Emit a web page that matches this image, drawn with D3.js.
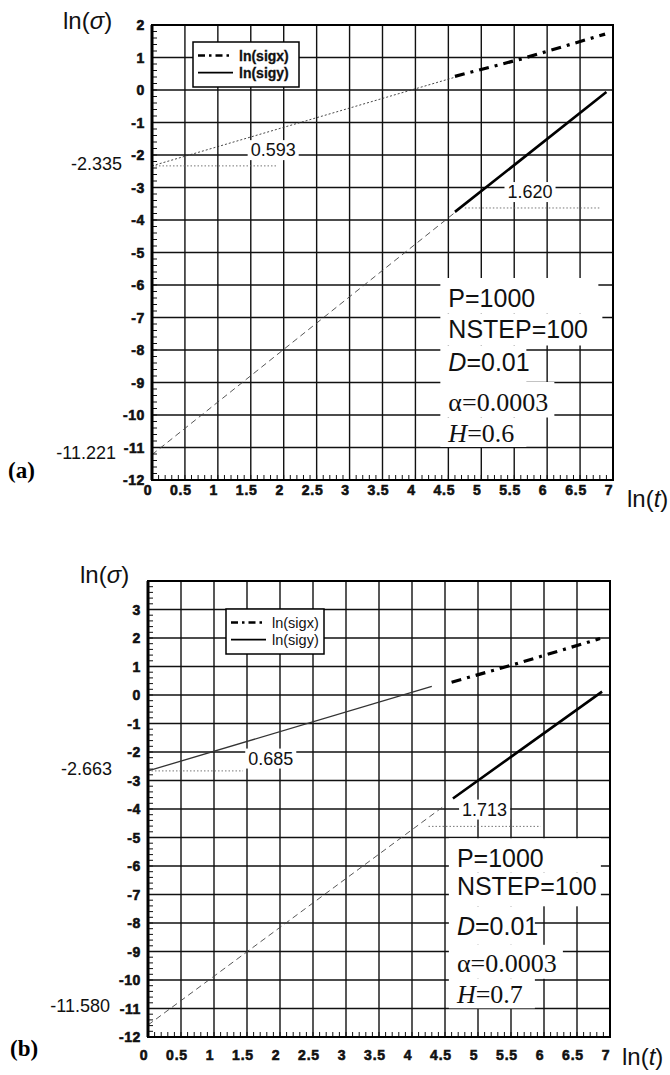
<!DOCTYPE html>
<html><head><meta charset="utf-8">
<script src="https://cdn.jsdelivr.net/npm/d3@7"></script>
<style>
body{margin:0;background:#fff;}
svg{display:block;}
</style></head>
<body>
<svg id="c" width="670" height="1075"></svg>
<script>
// ---------- DATA ----------
const xTicks = [0,0.5,1,1.5,2,2.5,3,3.5,4,4.5,5,5.5,6,6.5,7];
const yTicksA = [2,1,0,-1,-2,-3,-4,-5,-6,-7,-8,-9,-10,-11,-12];
const yTicksB = [3,2,1,0,-1,-2,-3,-4,-5,-6,-7,-8,-9,-10,-11,-12];
const seriesNames = ["ln(sigx)","ln(sigy)"];

// panel (a)
const sigxFitA  = [[0,-2.335],[4.6,0.393]];
const sigxDataA = [[4.6,0.42],[5.6,0.95],[6.88,1.72]];
const sigyFitA  = [[0,-11.221],[4.6,-3.77]];
const sigyDataA = [[4.6,-3.75],[5.6,-2.15],[6.9,-0.06]];
const refLinesA = [[[0,-2.335],[1.9,-2.335]],[[4.75,-3.63],[6.8,-3.63]]];
const slopesA   = [{v:"0.593",x:1.84,y:-1.85},{v:"1.620",x:5.74,y:-3.14}];
const interceptsA = [{v:"-2.335",y:-2.335},{v:"-11.221",y:-11.221}];
const paramsA = {P:"1000",NSTEP:"100",D:"0.01",alpha:"0.0003",H:"0.6"};

// panel (b)
const sigxFitB  = [[0,-2.663],[4.3,0.30]];
const sigxDataB = [[4.6,0.45],[5.5,1.04],[6.85,1.98]];
const sigyFitB  = [[0,-11.58],[4.5,-3.87]];
const sigyDataB = [[4.62,-3.63],[5.5,-2.17],[6.88,0.12]];
const refLinesB = [[[0,-2.663],[1.44,-2.663]],[[4.25,-4.61],[5.95,-4.61]]];
const slopesB   = [{v:"0.685",x:1.86,y:-2.23},{v:"1.713",x:5.1,y:-4.02}];
const interceptsB = [{v:"-2.663",y:-2.663},{v:"-11.580",y:-11.58}];
const paramsB = {P:"1000",NSTEP:"100",D:"0.01",alpha:"0.0003",H:"0.7"};

// ---------- DRAW ----------
const svg = d3.select("#c");
const SANS = "Liberation Sans, Arial, sans-serif";
const SERIF = "Liberation Serif, Times New Roman, serif";

function panel(cfg){
  const x = d3.scaleLinear().domain([0,7]).range([cfg.left,cfg.right]);
  const y = d3.scaleLinear().domain(cfg.ydom).range([cfg.bottom,cfg.top]);
  const g = svg.append("g");
  const line = d3.line().x(d=>x(d[0])).y(d=>y(d[1]));

  // grid
  g.append("g").selectAll("line").data(xTicks).join("line")
    .attr("x1",d=>x(d)).attr("x2",d=>x(d)).attr("y1",cfg.top).attr("y2",cfg.bottom)
    .attr("stroke","#111").attr("stroke-width",1.4);
  g.append("g").selectAll("line").data(cfg.yTicks).join("line")
    .attr("x1",cfg.left).attr("x2",cfg.right).attr("y1",d=>y(d)).attr("y2",d=>y(d))
    .attr("stroke","#111").attr("stroke-width",1.4);

  // minor ticks
  const yMinor = d3.range(cfg.ydom[0], cfg.ydom[1]+1e-9, 0.2);
  g.append("g").selectAll("line").data(yMinor).join("line")
    .attr("x1",cfg.left).attr("x2",cfg.left+5).attr("y1",d=>y(d)).attr("y2",d=>y(d))
    .attr("stroke","#111").attr("stroke-width",1);
  const xMinor = d3.range(0, 7+1e-9, 0.1);
  g.append("g").selectAll("line").data(xMinor).join("line")
    .attr("x1",d=>x(d)).attr("x2",d=>x(d)).attr("y1",cfg.bottom).attr("y2",cfg.bottom-5)
    .attr("stroke","#111").attr("stroke-width",1);

  // parameter block (white boxes covering grid)
  const p = cfg.params;
  const plines = [
    {parts:[["P="+p.P,SANS,"normal"]], dy:0, w:cfg.pw[0]},
    {parts:[["NSTEP="+p.NSTEP,SANS,"normal"]], dy:cfg.pdy[1], w:cfg.pw[1]},
    {parts:[["D",SANS,"italic"],["="+p.D,SANS,"normal"]], dy:cfg.pdy[2], w:cfg.pw[2]},
    {parts:[["α="+p.alpha,SERIF,"normal"]], dy:cfg.pdy[3], w:cfg.pw[3]},
    {parts:[["H",SERIF,"italic"],["="+p.H,SERIF,"normal"]], dy:cfg.pdy[4], w:cfg.pw[4]}
  ];
  const px0 = x(cfg.px), py0 = y(cfg.py);
  let cum = 0;
  const ys = plines.map(l=>{cum+=l.dy; return py0+cum;});
  plines.forEach((l,i)=>{
    const top = i===0 ? ys[0]-20 : (ys[i-1]+ys[i])/2;
    const bot = i===plines.length-1 ? ys[i]+14 : (ys[i]+ys[i+1])/2;
    g.append("rect").attr("x",px0-8).attr("y",top).attr("width",l.w).attr("height",bot-top)
      .attr("fill","#fff");
  });
  plines.forEach((l,i)=>{
    const t = g.append("text").attr("x",px0).attr("y",ys[i]).attr("dominant-baseline","central")
      .attr("font-size",25).attr("fill","#111");
    l.parts.forEach(pt=>{
      t.append("tspan").text(pt[0]).attr("font-family",pt[1]).attr("font-style",pt[2])
        .attr("font-size", pt[1]===SERIF?26:25);
    });
  });

  // series lines
  g.append("path").datum(cfg.sigxFit).attr("d",line).attr("fill","none")
    .attr("stroke","#333").attr("stroke-width",cfg.fitXw).attr("stroke-dasharray",cfg.fitXdash);
  g.append("path").datum(cfg.sigyFit).attr("d",line).attr("fill","none")
    .attr("stroke","#444").attr("stroke-width",0.9).attr("stroke-dasharray","6,4");
  g.append("path").datum(cfg.sigxData).attr("d",line).attr("fill","none")
    .attr("stroke","#000").attr("stroke-width",3.2).attr("stroke-dasharray","10,6,3,6");
  g.append("path").datum(cfg.sigyData).attr("d",line).attr("fill","none")
    .attr("stroke","#000").attr("stroke-width",2.6);

  // reference dotted lines
  cfg.refLines.forEach(r=>{
    g.append("path").datum(r).attr("d",line).attr("fill","none")
      .attr("stroke","#666").attr("stroke-width",0.9).attr("stroke-dasharray","1.5,2");
  });

  // slope labels
  cfg.slopes.forEach(s=>{
    const t = g.append("text").attr("x",x(s.x)).attr("y",y(s.y)).attr("text-anchor","middle")
      .attr("dominant-baseline","central").attr("font-family",SANS).attr("font-size",18)
      .attr("fill","#111").text(s.v);
    const bb = t.node().getBBox();
    g.insert("rect", function(){return t.node();})
      .attr("x",bb.x-3).attr("y",bb.y).attr("width",bb.width+6).attr("height",bb.height)
      .attr("fill","#fff");
  });

  // frame
  g.append("rect").attr("x",cfg.left).attr("y",cfg.top).attr("width",cfg.right-cfg.left)
    .attr("height",cfg.bottom-cfg.top).attr("fill","none").attr("stroke","#000").attr("stroke-width",2);
  g.append("line").attr("x1",cfg.left).attr("x2",cfg.left).attr("y1",cfg.top).attr("y2",cfg.bottom)
    .attr("stroke","#000").attr("stroke-width",3);

  // legend
  const L = cfg.legend;
  g.append("rect").attr("x",L.x).attr("y",L.y).attr("width",L.w).attr("height",L.h)
    .attr("fill","#fff").attr("stroke","#000").attr("stroke-width",1.5);
  seriesNames.forEach((n,i)=>{
    const ly = L.y + L.h*(0.3+0.38*i);
    g.append("line").attr("x1",L.x+5).attr("x2",L.x+L.lw).attr("y1",ly).attr("y2",ly)
      .attr("stroke","#000").attr("stroke-width",i===0?2.6:1.6)
      .attr("stroke-dasharray",i===0?"7,4,2.5,4":null);
    g.append("text").attr("x",L.x+L.lw+6).attr("y",ly).attr("dominant-baseline","central")
      .attr("font-family",SANS).attr("font-size",L.fs).attr("font-weight",L.fw).attr("fill","#111")
      .attr("stroke",L.fw==="bold"?"#111":"none").attr("stroke-width",0.3).text(n);
  });

  // axis tick labels
  g.append("g").selectAll("text").data(cfg.yTicks).join("text")
    .attr("x",cfg.left-7).attr("y",d=>y(d)).attr("text-anchor","end").attr("dominant-baseline","central")
    .attr("font-family",SANS).attr("font-weight","bold").attr("font-size",14).attr("letter-spacing",0.6)
    .attr("fill","#111").attr("stroke","#111").attr("stroke-width",0.6).text(d=>d);
  g.append("g").selectAll("text").data(xTicks).join("text")
    .attr("x",d=>x(d)-4).attr("y",cfg.bottom+cfg.xlabDy).attr("text-anchor","middle")
    .attr("font-family",SANS).attr("font-weight","bold").attr("font-size",14).attr("letter-spacing",0.8)
    .attr("fill","#111").attr("stroke","#111").attr("stroke-width",0.6).text(d=>d);

  // intercept labels
  cfg.intercepts.forEach((it,i)=>{
    g.append("text").attr("x",cfg.intX[i]).attr("y",y(it.y)+cfg.intDy[i]).attr("text-anchor","end")
      .attr("dominant-baseline","central").attr("font-family",SANS).attr("font-size",18)
      .attr("fill","#111").text(it.v);
  });

  // axis titles
  const ts = g.append("text").attr("x",cfg.ysx).attr("y",cfg.ysy).attr("font-family",SANS)
    .attr("font-size",24).attr("fill","#111");
  ts.append("tspan").text("ln(");
  ts.append("tspan").text("σ").attr("font-style","italic");
  ts.append("tspan").text(")");
  const tt = g.append("text").attr("x",cfg.xtx).attr("y",cfg.xty).attr("font-family",SANS)
    .attr("font-size",24).attr("fill","#111");
  tt.append("tspan").text("ln(");
  tt.append("tspan").text("t").attr("font-style","italic");
  tt.append("tspan").text(")");

  g.append("text").attr("x",cfg.tagx).attr("y",cfg.tagy).attr("font-family",SERIF)
    .attr("font-weight","bold").attr("font-size",23).attr("fill","#000").text(cfg.tag);
}

panel({
  left:152, right:613, top:25, bottom:480, ydom:[-12,2], yTicks:yTicksA,
  sigxFit:sigxFitA, sigxData:sigxDataA, sigyFit:sigyFitA, sigyData:sigyDataA,
  fitXw:0.9, fitXdash:"2,2",
  refLines:refLinesA, slopes:slopesA, intercepts:interceptsA,
  intX:[122,116], intDy:[-2,-2],
  params:paramsA, px:4.5, py:-6.4, pdy:[0,31,33,40,31], pw:[158,162,86,114,86],
  legend:{x:193,y:42,w:106,h:45,lw:40,fs:14,fw:"bold"},
  xlabDy:15, ysx:63, ysy:29, xtx:627, xty:507, tag:"(a)", tagx:8, tagy:478
});

panel({
  left:148, right:610, top:581, bottom:1037, ydom:[-12,4], yTicks:yTicksB,
  sigxFit:sigxFitB, sigxData:sigxDataB, sigyFit:sigyFitB, sigyData:sigyDataB,
  fitXw:1.3, fitXdash:null,
  refLines:refLinesB, slopes:slopesB, intercepts:interceptsB,
  intX:[112,110], intDy:[-2,-19],
  params:paramsB, px:4.68, py:-5.73, pdy:[0,28,40,37,31], pw:[152,152,86,114,86],
  legend:{x:226,y:609,w:98,h:45,lw:40,fs:14.5,fw:"normal"},
  xlabDy:23, ysx:80, ysy:583, xtx:622, xty:1065, tag:"(b)", tagx:10, tagy:1056
});
</script>
</body></html>
